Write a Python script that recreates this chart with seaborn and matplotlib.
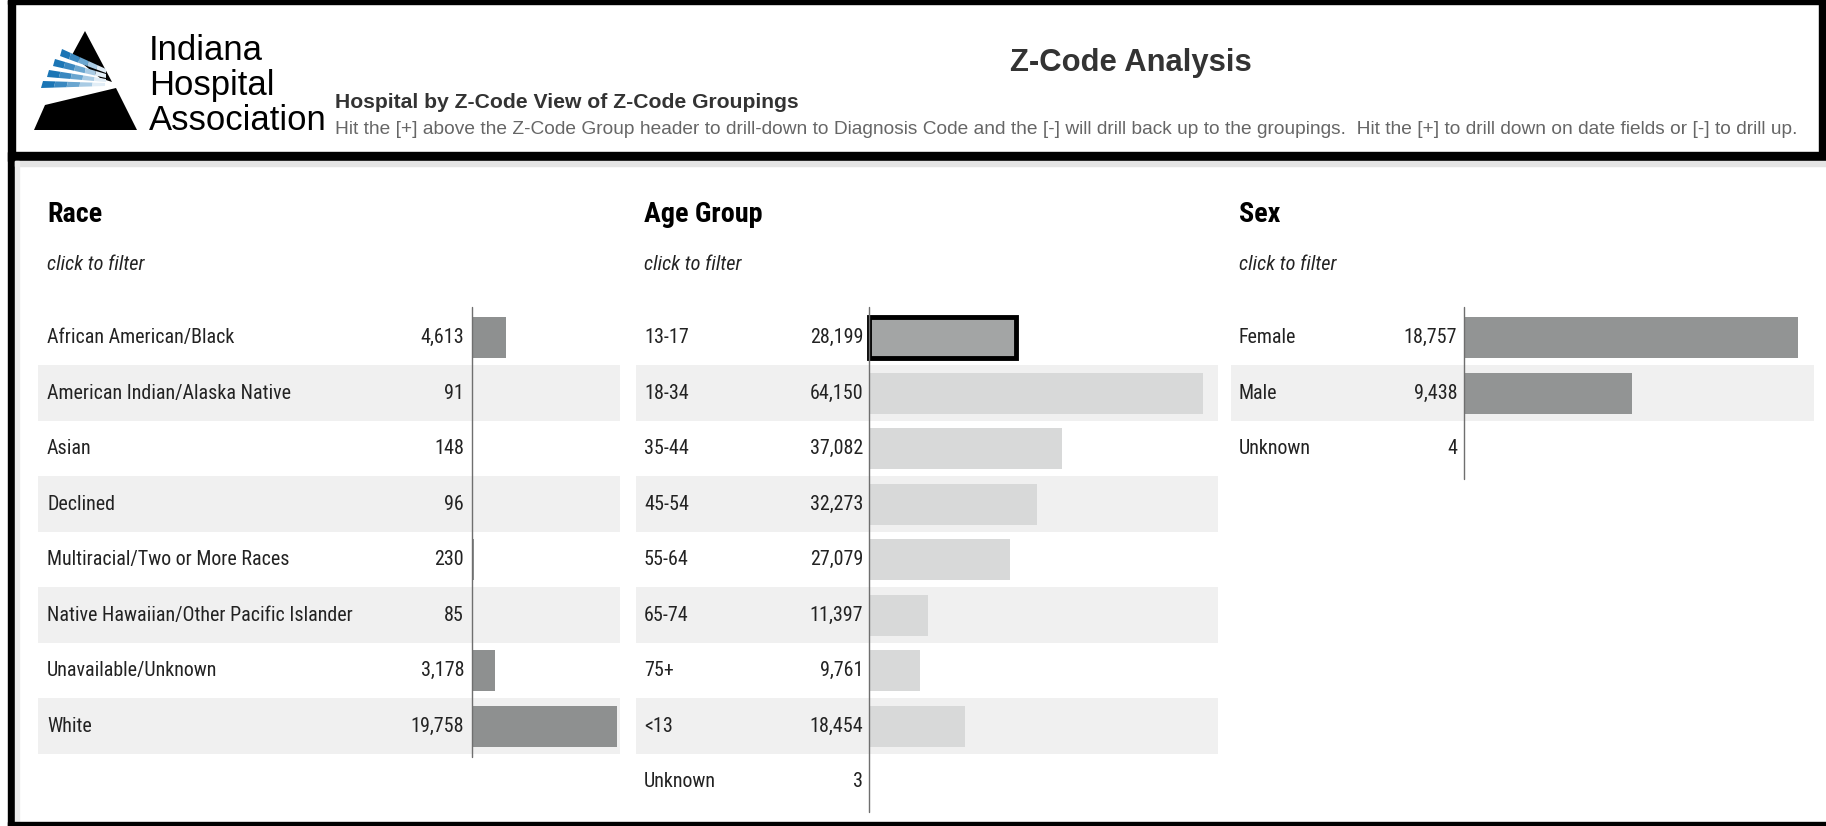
import os
import matplotlib
matplotlib.use("Agg")
import matplotlib.pyplot as plt
import matplotlib.transforms as mtransforms
from matplotlib import font_manager
from matplotlib.font_manager import FontProperties
from matplotlib.patches import Rectangle, Polygon
import seaborn as sns
import pandas as pd

# ---------------- data ----------------
race_cats = ["African American/Black", "American Indian/Alaska Native", "Asian", "Declined",
             "Multiracial/Two or More Races", "Native Hawaiian/Other Pacific Islander",
             "Unavailable/Unknown", "White"]
race_vals = [4613, 91, 148, 96, 230, 85, 3178, 19758]

age_cats = ["13-17", "18-34", "35-44", "45-54", "55-64", "65-74", "75+", "<13", "Unknown"]
age_vals = [28199, 64150, 37082, 32273, 27079, 11397, 9761, 18454, 3]

sex_cats = ["Female", "Male", "Unknown"]
sex_vals = [18757, 9438, 4]

title = "Z-Code Analysis"
subtitle = "Hospital by Z-Code View of Z-Code Groupings"
instructions = ("Hit the [+] above the Z-Code Group header to drill-down to Diagnosis Code and the [-] "
                "will drill back up to the groupings.  Hit the [+] to drill down on date fields or [-] to drill up.")
org_lines = ["Indiana", "Hospital", "Association"]
filter_hint = "click to filter"

# ---------------- style ----------------
sns.set_theme(style="white")
plt.rcParams["font.family"] = ["Liberation Sans", "DejaVu Sans"]


def pick_font(bold=False, italic=False):
    """Prefer an installed narrow/condensed face; fall back to Liberation Sans."""
    prefs = ["liberationsansnarrow", "robotocondensed", "notosans-condensed", "notosanscondensed",
             "opensans-condensed", "opensanscondensed", "dejavusanscondensed", "condensed", "narrow"]
    found = []
    for f in font_manager.fontManager.ttflist:
        b = os.path.basename(f.fname).lower().replace("_", "").replace(" ", "")
        if not ("narrow" in b or "condensed" in b):
            continue
        if any(k in b for k in ["extracondensed", "ultracondensed", "semicondensed", "mono", "serif"]):
            continue
        is_bold = ("bold" in b) and not any(k in b for k in ["semibold", "extrabold", "demibold"])
        is_it = ("italic" in b) or ("oblique" in b)
        if is_bold != bold or is_it != italic:
            continue
        if any(k in b for k in ["light", "thin", "medium", "black", "semibold", "extrabold", "variable", "["]):
            continue
        rank = next((i for i, p in enumerate(prefs) if p in b), len(prefs))
        found.append((rank, f.fname))
    if found:
        found.sort()
        return FontProperties(fname=found[0][1])
    return FontProperties(family=["Liberation Sans", "DejaVu Sans"],
                          weight="bold" if bold else "normal",
                          style="italic" if italic else "normal")


F_REG = pick_font()
F_BOLD = pick_font(bold=True)
F_IT = pick_font(italic=True)
F_HEAD_REG = FontProperties(family=["Liberation Sans", "DejaVu Sans"])
F_HEAD_BOLD = FontProperties(family=["Liberation Sans", "DejaVu Sans"], weight="bold")

W, H = 1826, 826
fig = plt.figure(figsize=(W / 100, H / 100), dpi=100)
fig.patch.set_facecolor("white")
renderer = fig.canvas.get_renderer()


def fit(text, prop, target_px, max_pt):
    p = prop.copy()
    p.set_size(20)
    w, _, _ = renderer.get_text_width_height_descent(text, p, ismath=False)
    size = 20 * target_px / w
    p.set_size(min(size, max_pt))
    return p


def fx(x):
    return x / W


def fy(y):
    return 1 - y / H


def px_axes(x0, y0, x1, y1, **kw):
    return fig.add_axes([fx(x0), fy(y1), (x1 - x0) / W, (y1 - y0) / H], **kw)


# ---------------- frame ----------------
def frect(x0, y0, x1, y1, color):
    fig.patches.append(Rectangle((fx(x0), fy(y1)), (x1 - x0) / W, (y1 - y0) / H,
                                 transform=fig.transFigure, color=color, zorder=0))

frect(8, 0, 1826, 4, "black")          # top
frect(8, 0, 15, 826, "black")          # left
frect(1819, 0, 1826, 160, "black")     # header right
frect(8, 152, 1826, 161, "black")      # header bottom
frect(15, 161, 1826, 166, "#e4e4e4")   # shadow
frect(15, 161, 19, 822, "#ececec")
frect(8, 822, 1826, 826, "black")      # bottom

# ---------------- logo ----------------
lax = px_axes(25, 25, 145, 135)
lax.set_xlim(25, 145)
lax.set_ylim(135, 25)
lax.axis("off")
lax.add_patch(Polygon([(34, 130), (45, 105), (116, 88), (137, 130)], closed=True, color="black", lw=0))
lax.add_patch(Polygon([(85, 31), (112, 82), (100, 78), (72, 55)], closed=True, color="black", lw=0))
stripes = [
    [(62, 49), (106, 69), (106, 73), (60, 56)],
    [(55, 59), (106, 74), (106, 78), (53, 66)],
    [(49, 70), (106, 79), (106, 82), (47, 77)],
    [(43, 81), (105, 83), (105, 86), (41, 88)],
]
blues = ["#1b75b5", "#3a88c0", "#6aa6d0", "#a9cbe4", "#e1edf6"]
for st in stripes:
    (xa, ya), (xb, yb), (xc, yc), (xd, yd) = st
    nseg = len(blues)
    for k, col in enumerate(blues):
        t0, t1 = k / nseg, (k + 1) / nseg
        pts = [(xa + (xb - xa) * t0, ya + (yb - ya) * t0), (xa + (xb - xa) * t1, ya + (yb - ya) * t1),
               (xd + (xc - xd) * t1, yd + (yc - yd) * t1), (xd + (xc - xd) * t0, yd + (yc - yd) * t0)]
        lax.add_patch(Polygon(pts, closed=True, color=col, lw=0))

org_prop = fit("Association", F_HEAD_REG, 177, 28)
for i, t in enumerate(org_lines):
    fig.text(fx(149), fy(60 + i * 35), t, fontproperties=org_prop, va="baseline", ha="left",
             color="black")

fig.text(fx(1131), fy(63), title, fontproperties=fit(title, F_HEAD_BOLD, 241, 24),
         ha="center", va="center", color="#333333")
fig.text(fx(335), fy(102), subtitle, fontproperties=fit(subtitle, F_HEAD_BOLD, 463, 16),
         ha="left", va="center", color="#333333")
fig.text(fx(335), fy(129), instructions, fontproperties=fit(instructions, F_HEAD_REG, 1465, 16),
         ha="left", va="center", color="#666666")

# ---------------- panels ----------------
ROW0 = 337.7
PITCH = 55.5
label_prop = fit("African American/Black", F_REG, 188, 21)
title_prop = fit("Age Group", F_BOLD, 118, 28)
hint_prop = fit(filter_hint, F_IT, 97, 20)

panels = [
    dict(name="Race", cats=race_cats, vals=race_vals, left=38, right=620, zero=472, vmax_px=617,
         label_x=47, value_x=464, colors=["#8e9090"] * len(race_cats), sel=None),
    dict(name="Age Group", cats=age_cats, vals=age_vals, left=636, right=1218, zero=869, vmax_px=1203,
         label_x=644, value_x=863, colors=["#a3a5a5"] + ["#d8d9d9"] * (len(age_cats) - 1), sel=0),
    dict(name="Sex", cats=sex_cats, vals=sex_vals, left=1231, right=1814, zero=1464, vmax_px=1798,
         label_x=1239, value_x=1457, colors=["#929494"] * len(sex_cats), sel=None),
]

for p in panels:
    n = len(p["cats"])
    top = ROW0 - PITCH / 2
    bot = top + n * PITCH
    ax = px_axes(p["left"], top, p["right"], bot)
    vmax = max(p["vals"])
    s = vmax / (p["vmax_px"] - p["zero"])
    ax.set_xlim(-(p["zero"] - p["left"]) * s, (p["right"] - p["zero"]) * s)
    df = pd.DataFrame({"cat": p["cats"], "val": p["vals"]})
    pal = dict(zip(p["cats"], p["colors"]))
    for i in range(1, n, 2):
        ax.axhspan(i - 0.5, i + 0.5, color="#f0f0f0", zorder=0, lw=0)
    sns.barplot(data=df, x="val", y="cat", hue="cat", palette=pal, orient="h", width=0.74,
                legend=False, ax=ax, saturation=1, zorder=2, linewidth=0)
    if p["sel"] is not None:
        for b in ax.patches:
            if abs(b.get_y() + b.get_height() / 2 - p["sel"]) < 0.01 and b.get_width() > 0:
                b.set_edgecolor("black")
                b.set_linewidth(3.5)
    ax.set_ylim(n - 0.5, -0.5)
    ax.plot([0, 0], [-0.55, n - 0.45], color="#6f6f6f", lw=1, zorder=3, clip_on=False)
    ax.axis("off")
    trans = mtransforms.blended_transform_factory(fig.transFigure, ax.transData)
    for i, (c, v) in enumerate(zip(p["cats"], p["vals"])):
        ax.text(fx(p["label_x"]), i, c, transform=trans, ha="left", va="center",
                fontproperties=label_prop, color="#222222")
        ax.text(fx(p["value_x"]), i, f"{v:,}", transform=trans, ha="right", va="center",
                fontproperties=label_prop, color="#222222")
    fig.text(fx(p["label_x"]), fy(215), p["name"], fontproperties=title_prop,
             ha="left", va="center", color="black")
    fig.text(fx(p["label_x"]), fy(264), filter_hint, fontproperties=hint_prop,
             ha="left", va="center", color="#222222")

fig.savefig("out.png", dpi=100)
